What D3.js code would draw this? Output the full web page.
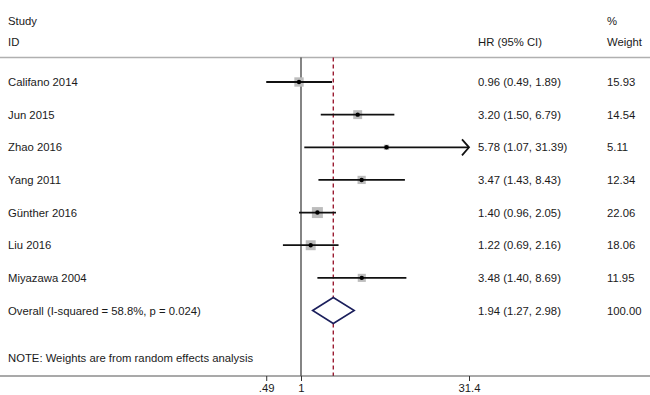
<!DOCTYPE html>
<html>
<head>
<meta charset="utf-8">
<script src="https://cdn.jsdelivr.net/npm/d3@7"></script>
<style>
  body { margin: 0; background: #fff; }
  text { font-family: "Liberation Sans", Arial, sans-serif; font-size: 11.3px; fill: #1a1a1a; }
</style>
</head>
<body>
<div id="chart"></div>
<script>
let studies = ["Califano 2014", "Jun 2015", "Zhao 2016", "Yang 2011", "Günther 2016", "Liu 2016", "Miyazawa 2004"];
let hr = [0.96, 3.20, 5.78, 3.47, 1.40, 1.22, 3.48];
let lo = [0.49, 1.50, 1.07, 1.43, 0.96, 0.69, 1.40];
let hi = [1.89, 6.79, 31.39, 8.43, 2.05, 2.16, 8.69];
let weights = [15.93, 14.54, 5.11, 12.34, 22.06, 18.06, 11.95];

let overallLabel = "Overall (I-squared = 58.8%, p = 0.024)";
let overall = {hr: 1.94, lo: 1.27, hi: 2.98, w: 100.00};

let tickValues = [0.49, 1, 31.4];
let tickLabels = [".49", "1", "31.4"];

let width = 650, height = 395;

let dataset = studies.map((s, i) => ({name: s, hr: hr[i], lo: lo[i], hi: hi[i], w: weights[i]}));

let svg = d3.select("#chart")
    .append("svg")
    .attr("width", width)
    .attr("height", height);

let x = d3.scaleLog()
    .domain([1, 31.4])
    .range([301, 469]);

let rows = studies.concat([overallLabel]);
let y = d3.scalePoint()
    .domain(d3.range(rows.length))
    .range([82, 310.5]);

let boxSize = d3.scaleSqrt()
    .domain([0, d3.max(weights)])
    .range([0, 11]);

let topY = 57.5, axisY = 376;
let xMax = d3.max(tickValues);

// headers
svg.append("text").attr("x", 8).attr("y", 25).text("Study");
svg.append("text").attr("x", 8).attr("y", 46).text("ID");
svg.append("text").attr("x", 478).attr("y", 46).text("HR (95% CI)");
svg.append("text").attr("x", 607).attr("y", 25).text("%");
svg.append("text").attr("x", 607).attr("y", 46).text("Weight");

svg.append("line")
    .attr("x1", 0).attr("x2", width)
    .attr("y1", topY).attr("y2", topY)
    .style("stroke", "#b0b0b0")
    .style("stroke-width", 1.5);

// null line and overall line
svg.append("line")
    .attr("x1", x(1)).attr("x2", x(1))
    .attr("y1", topY).attr("y2", axisY)
    .style("stroke", "#333")
    .style("stroke-width", 1.2);

svg.append("line")
    .attr("x1", x(overall.hr)).attr("x2", x(overall.hr))
    .attr("y1", topY).attr("y2", axisY)
    .style("stroke", "#9b1c32")
    .style("stroke-width", 1.4)
    .style("stroke-dasharray", "4,3");

// study rows
let g = svg.append("g")
    .selectAll("g")
    .data(dataset)
    .enter()
    .append("g");

g.append("rect")
    .attr("x", d => x(d.hr) - boxSize(d.w) / 2)
    .attr("y", (d, i) => y(i) - boxSize(d.w) / 2)
    .attr("width", d => boxSize(d.w))
    .attr("height", d => boxSize(d.w))
    .style("fill", "#bdbdbd");

g.append("line")
    .attr("x1", d => x(d.lo))
    .attr("x2", d => x(Math.min(d.hi, xMax)))
    .attr("y1", (d, i) => y(i))
    .attr("y2", (d, i) => y(i))
    .style("stroke", "#111")
    .style("stroke-width", 1.8);

g.filter(d => d.hi >= xMax * 0.99)
    .append("path")
    .attr("d", d => {
        let yy = y(dataset.indexOf(d)), xx = x(xMax);
        return "M" + (xx - 7) + "," + (yy - 8) + "L" + xx + "," + yy + "L" + (xx - 7) + "," + (yy + 8);
    })
    .style("fill", "none")
    .style("stroke", "#111")
    .style("stroke-width", 1.8);

g.append("circle")
    .attr("cx", d => x(d.hr))
    .attr("cy", (d, i) => y(i))
    .attr("r", 2.2)
    .style("fill", "#000");

g.append("text")
    .attr("x", 8)
    .attr("y", (d, i) => y(i) + 4)
    .text(d => d.name);

g.append("text")
    .attr("x", 478)
    .attr("y", (d, i) => y(i) + 4)
    .text(d => d.hr.toFixed(2) + " (" + d.lo.toFixed(2) + ", " + d.hi.toFixed(2) + ")");

g.append("text")
    .attr("x", 607)
    .attr("y", (d, i) => y(i) + 4)
    .text(d => d.w.toFixed(2));

// overall
let oy = y(studies.length);
svg.append("path")
    .attr("d", "M" + x(overall.lo) + "," + oy +
               "L" + x(overall.hr) + "," + (oy - 13) +
               "L" + x(overall.hi) + "," + oy +
               "L" + x(overall.hr) + "," + (oy + 13) + "Z")
    .style("fill", "#fff")
    .style("stroke", "#1b1f5c")
    .style("stroke-width", 1.6);

svg.append("text").attr("x", 8).attr("y", oy + 4).text(overallLabel);
svg.append("text").attr("x", 478).attr("y", oy + 4)
    .text(overall.hr.toFixed(2) + " (" + overall.lo.toFixed(2) + ", " + overall.hi.toFixed(2) + ")");
svg.append("text").attr("x", 607).attr("y", oy + 4).text(overall.w.toFixed(2));

svg.append("text").attr("x", 8).attr("y", 362)
    .text("NOTE: Weights are from random effects analysis");

// axis
svg.append("line")
    .attr("x1", 0).attr("x2", width)
    .attr("y1", axisY).attr("y2", axisY)
    .style("stroke", "#555")
    .style("stroke-width", 1.2);

let axis = svg.append("g")
    .attr("transform", "translate(0," + axisY + ")")
    .call(d3.axisBottom(x)
        .tickValues(tickValues)
        .tickFormat((d, i) => tickLabels[i])
        .tickSize(5)
        .tickPadding(3));
axis.select(".domain").remove();
axis.selectAll("line").style("stroke", "#333");
axis.selectAll("text")
    .style("font-family", "'Liberation Sans', Arial, sans-serif")
    .style("font-size", "11.3px")
    .style("fill", "#1a1a1a");
</script>
</body>
</html>
